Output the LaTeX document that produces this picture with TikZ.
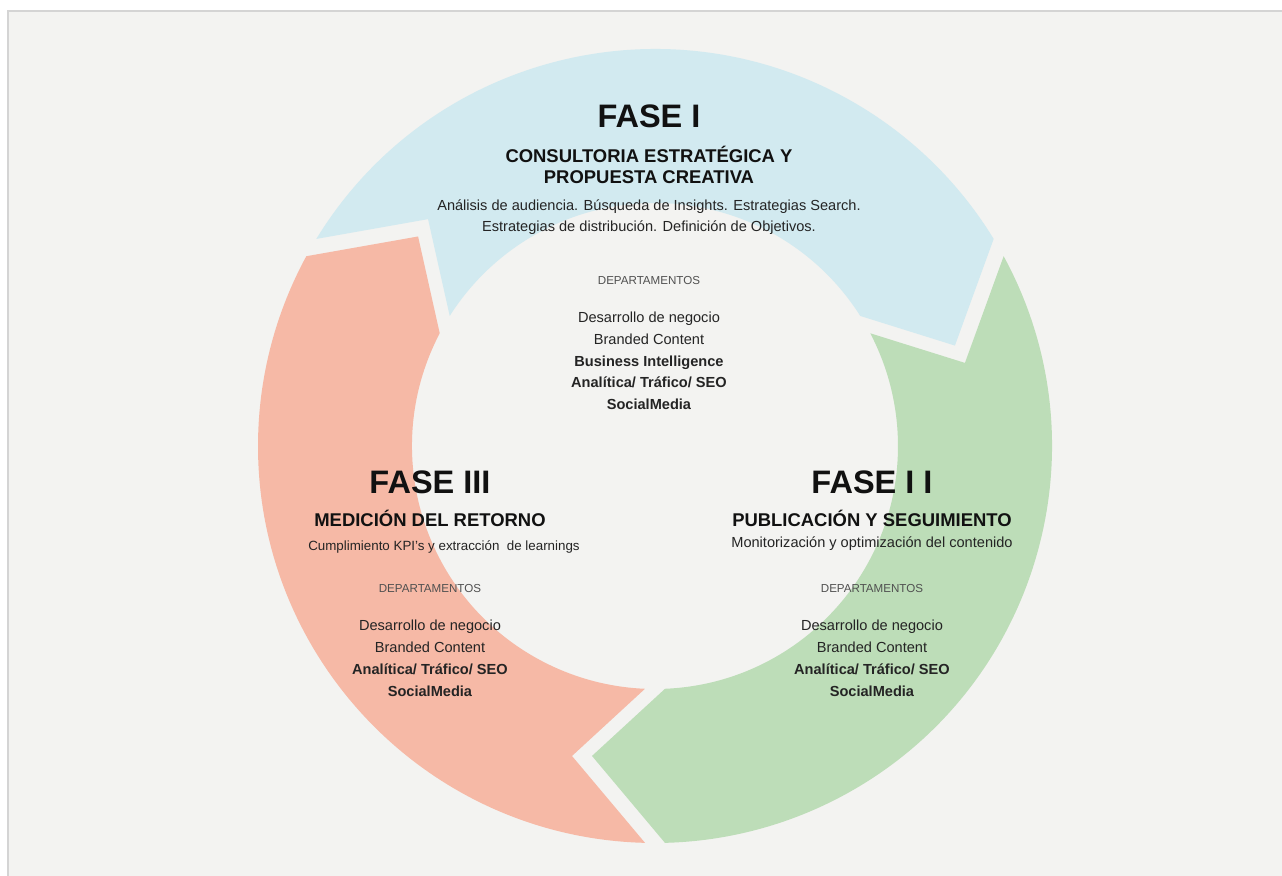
\documentclass[tikz,border=0pt]{standalone}
\usepackage{fontspec}
\setmainfont{Liberation Sans}
\usepackage{xcolor}
\definecolor{paper}{HTML}{F3F3F1}
\definecolor{frameline}{HTML}{D4D4D4}
\definecolor{phasecyan}{HTML}{D2EAF0}
\definecolor{phasegreen}{HTML}{BDDDB8}
\definecolor{phasesalmon}{HTML}{F6B9A6}
\definecolor{ink}{HTML}{111111}
\definecolor{softink}{HTML}{505050}
\usetikzlibrary{positioning}

\begin{document}
\begin{tikzpicture}[
  x=0.02cm, y=0.02cm,
  phasetitle/.style={font=\fontsize{18.5}{22}\selectfont\bfseries, text=ink,
                     inner sep=0pt, anchor=base},
  phasesub/.style={font=\fontsize{10.5}{12.1}\selectfont\bfseries, text=ink,
                   align=center, inner sep=0pt},
  phasedesc/.style={font=\fontsize{8.3}{12.5}\selectfont, text=ink!92,
                    align=center, inner sep=0pt},
  deptag/.style={font=\fontsize{6.6}{8}\selectfont, text=softink, inner sep=0pt},
  deplist/.style={font=\fontsize{8.3}{12.5}\selectfont, text=ink!92,
                  align=center, inner sep=0pt},
]
  % page and frame, ring centred on the origin
  \useasboundingbox (-655,-430) rectangle (627,446);
  \fill[white] (-655,-430) rectangle (627,446);
  \fill[paper] (-647,-430) rectangle (627,435);
  \draw[frameline, line width=0.04cm] (-647,-430) -- (-647,435) -- (627,435);

  % three arrow segments, clockwise: notch at the tail, point at the head
  \fill[phasecyan] (148.56:397) arc[start angle=148.56, end angle=31.44, radius=397]
    -- (18.51:316.3) -- (32.36:243) arc[start angle=32.36, end angle=147.64, radius=243]
    -- (135.01:320.9) -- cycle;
  \fill[phasegreen] (28.56:397) arc[start angle=28.56, end angle=-88.56, radius=397]
    -- (-101.49:316.3) -- (-87.64:243) arc[start angle=-87.64, end angle=27.64, radius=243]
    -- (15.01:320.9) -- cycle;
  \fill[phasesalmon] (268.56:397) arc[start angle=268.56, end angle=151.44, radius=397]
    -- (138.51:316.3) -- (152.36:243) arc[start angle=152.36, end angle=267.64, radius=243]
    -- (255.01:320.9) -- cycle;

  % fase I  (base of a multi-line node is its last line)
  \node[phasetitle] (fase1) at (-6,318) {FASE I};
  \node[phasesub, below=1.12cm of fase1.base, anchor=base] (fase1sub)
    {CONSULTORIA ESTRATÉGICA Y\\PROPUESTA CREATIVA};
  \node[phasedesc, below=0.96cm of fase1sub.base, anchor=base] (fase1desc)
    {Análisis de audiencia. Búsqueda de Insights. Estrategias Search.\\
     Estrategias de distribución. Definición de Objetivos.};
  \node[deptag, below=1.06cm of fase1desc.base, anchor=base] (fase1dep) {DEPARTAMENTOS};
  \node[deplist, below=2.5cm of fase1dep.base, anchor=base] (fase1list)
    {Desarrollo de negocio\\Branded Content\\\textbf{Business Intelligence}\\
     \textbf{Analítica/ Tráfico/ SEO}\\\textbf{SocialMedia}};

  % fase III
  \node[phasetitle] (fase3) at (-225,-47) {FASE III};
  \node[phasesub, below=0.68cm of fase3.base, anchor=base] (fase3sub)
    {MEDICIÓN DEL RETORNO};
  \node[phasedesc, font=\fontsize{7.6}{9}\selectfont, below=0.48cm of fase3sub.base,
        anchor=base, xshift=0.28cm] (fase3desc)
    {Cumplimiento KPI's y extracción~ de learnings};
  \node[deptag, below=1.32cm of fase3sub.base, anchor=base] (fase3dep) {DEPARTAMENTOS};
  \node[deplist, below=2.07cm of fase3dep.base, anchor=base] (fase3list)
    {Desarrollo de negocio\\Branded Content\\\textbf{Analítica/ Tráfico/ SEO}\\
     \textbf{SocialMedia}};

  % fase II
  \node[phasetitle] (fase2) at (217,-47) {FASE I I};
  \node[phasesub, below=0.68cm of fase2.base, anchor=base] (fase2sub)
    {PUBLICACIÓN Y SEGUIMIENTO};
  \node[phasedesc, below=0.42cm of fase2sub.base, anchor=base] (fase2desc)
    {Monitorización y optimización del contenido};
  \node[deptag, below=1.32cm of fase2sub.base, anchor=base] (fase2dep) {DEPARTAMENTOS};
  \node[deplist, below=2.07cm of fase2dep.base, anchor=base] (fase2list)
    {Desarrollo de negocio\\Branded Content\\\textbf{Analítica/ Tráfico/ SEO}\\
     \textbf{SocialMedia}};
\end{tikzpicture}
\end{document}
